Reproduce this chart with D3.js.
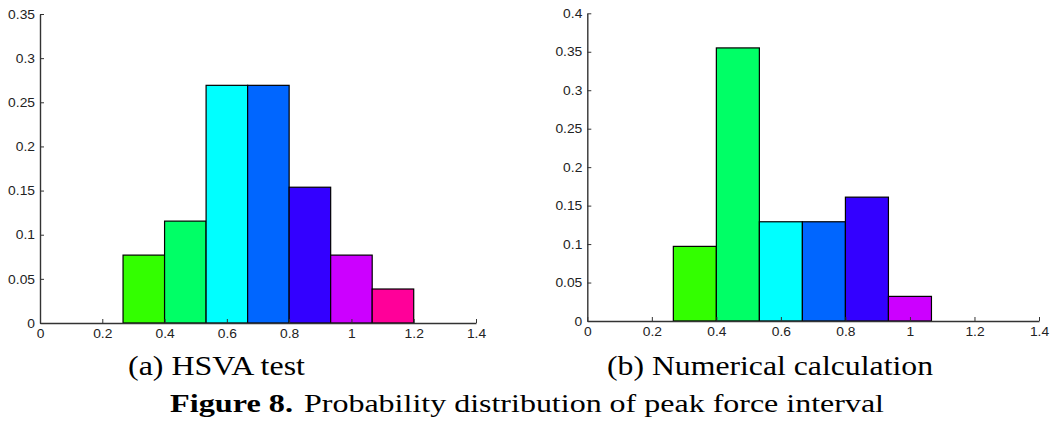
<!DOCTYPE html>
<html>
<head>
<meta charset="utf-8">
<script src="https://cdn.jsdelivr.net/npm/d3@7"></script>
</head>
<body style="margin:0;background:#fff">
<svg id="fig" width="1052" height="424"></svg>
<script>
// histogram bins: width 2/15, starting at 0
var binWidth = 2 / 15;
var binStarts = [0, 2/15, 4/15, 6/15, 8/15, 10/15, 12/15, 14/15, 16/15];
var binColors = ["#ff0000", "#ff9900", "#33ff00", "#00ff66", "#00ffff", "#0066ff", "#3300ff", "#cc00ff", "#ff0099"];

var hsvaValues = [0, 0, 0.0769, 0.1154, 0.2692, 0.2692, 0.1538, 0.0769, 0.0385];
var numericalValues = [0, 0, 0.097, 0.355, 0.129, 0.129, 0.161, 0.032, 0];

var xTicks = [0, 0.2, 0.4, 0.6, 0.8, 1, 1.2, 1.4];
var yTicksA = [0, 0.05, 0.1, 0.15, 0.2, 0.25, 0.3, 0.35];
var yTicksB = [0, 0.05, 0.1, 0.15, 0.2, 0.25, 0.3, 0.35, 0.4];

var SANS = "Arial, 'Liberation Sans', Helvetica, sans-serif";
var SERIF = "'Times New Roman', 'Liberation Serif', Times, serif";

var svg = d3.select("#fig");

// width of a tick label in the reference (matlab arial, slightly wide)
function labelWidth(s) {
  return s.split("").reduce((w, c) => w + (c === "." ? 3.8 : 7.7), 0);
}

function drawHist(values, yMax, yTicks, xr, yr) {
  var x = d3.scaleLinear().domain([0, 1.4]).range(xr);
  var y = d3.scaleLinear().domain([0, yMax]).range(yr);
  var g = svg.append("g");

  g.selectAll("rect.bar")
    .data(values)
    .join("rect")
    .attr("class", "bar")
    .attr("x", (d, i) => x(binStarts[i]))
    .attr("width", (d, i) => x(binStarts[i] + binWidth) - x(binStarts[i]))
    .attr("y", d => y(d))
    .attr("height", d => y(0) - y(d))
    .attr("fill", (d, i) => binColors[i])
    .attr("stroke", "#000")
    .attr("stroke-width", 1.2);

  var xAxis = d3.axisBottom(x).tickValues(xTicks).tickFormat(d3.format("")).tickSizeInner(-4).tickSizeOuter(0).tickPadding(6);
  var yAxis = d3.axisLeft(y).tickValues(yTicks).tickFormat(d3.format("")).tickSizeInner(-4).tickSizeOuter(0).tickPadding(5);

  var gx = g.append("g").attr("transform", "translate(0," + y(0) + ")").call(xAxis);
  var gy = g.append("g").attr("transform", "translate(" + x(0) + ",0)").call(yAxis);
  [gx, gy].forEach(a => {
    a.attr("font-family", SANS).attr("font-size", 13);
    a.select(".domain").attr("stroke", "#333").attr("stroke-width", 1.4);
    a.selectAll(".tick line").attr("stroke", "#333");
    a.selectAll(".tick text").attr("fill", "#222")
      .attr("textLength", function () { return labelWidth(this.textContent); })
      .attr("lengthAdjust", "spacingAndGlyphs");
  });
}

drawHist(hsvaValues, 0.35, yTicksA, [40, 476], [323, 14]);
drawHist(numericalValues, 0.4, yTicksB, [587.3, 1039], [321, 13.3]);

// captions
function caption(x, y, size, len, txt, bold) {
  svg.append("text").attr("x", x).attr("y", y)
    .attr("font-family", SERIF).attr("font-size", size)
    .attr("font-weight", bold ? "bold" : "normal")
    .attr("textLength", len).attr("lengthAdjust", "spacingAndGlyphs")
    .attr("fill", "#000")
    .text(txt);
}
caption(128, 375, 27, 177, "(a) HSVA test");
caption(607, 375, 27, 326, "(b) Numerical calculation");
caption(170, 412, 26, 123, "Figure 8.", true);
caption(304, 412, 26, 580, "Probability distribution of peak force interval");
</script>
</body>
</html>
